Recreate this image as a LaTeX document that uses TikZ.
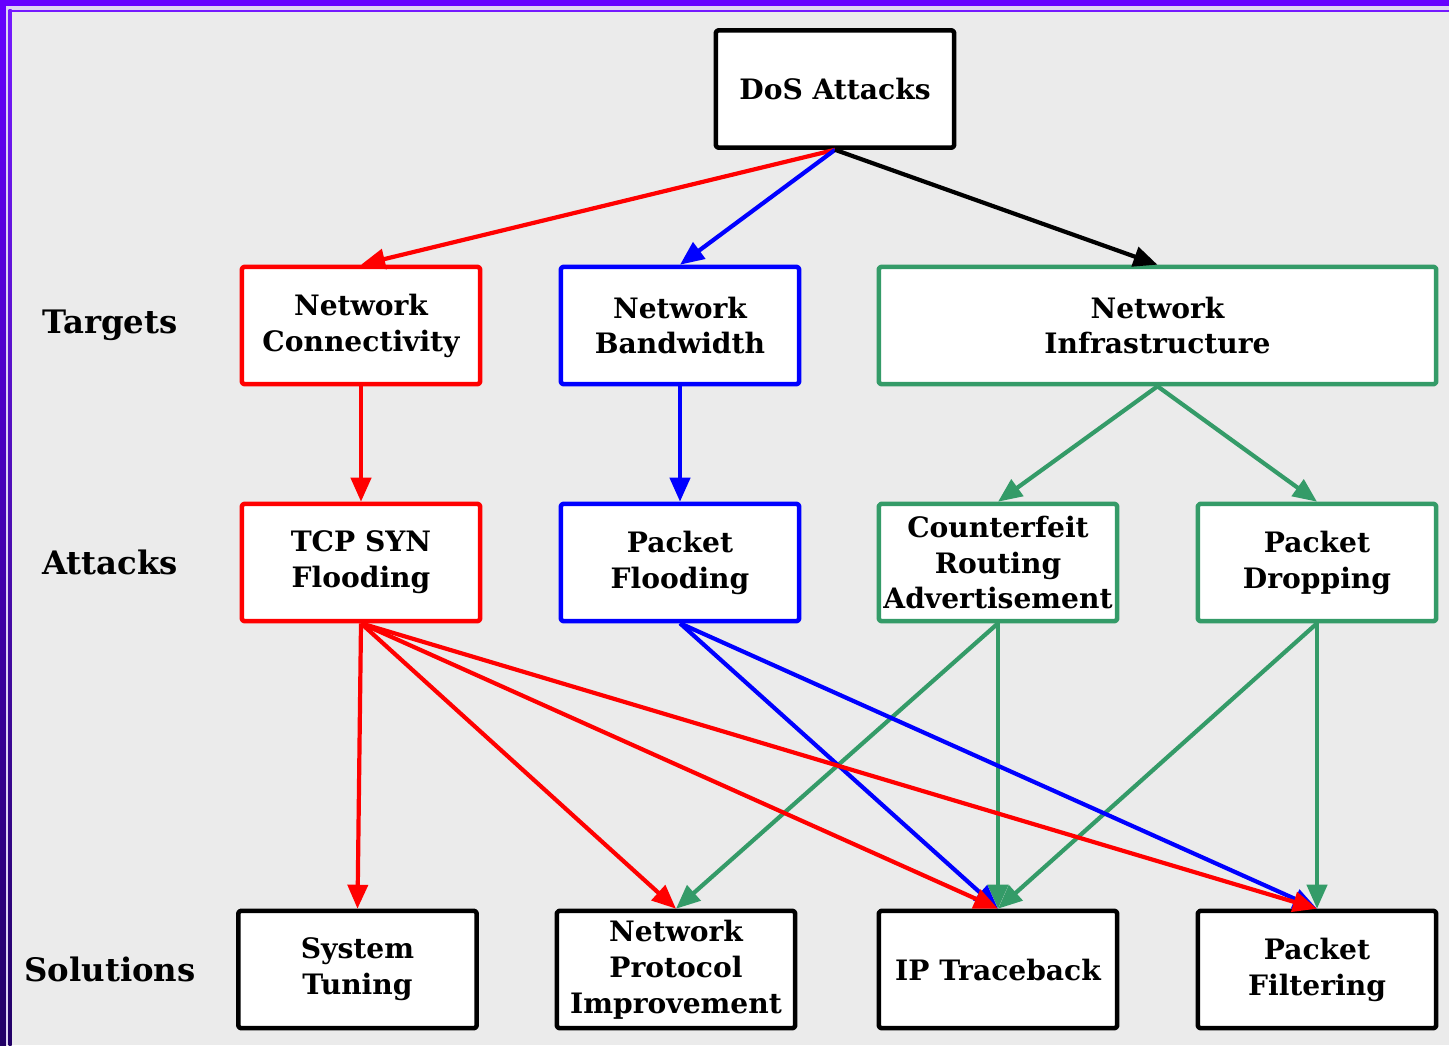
\documentclass[tikz,border=0pt]{standalone}
\usepackage{fontspec}
\setmainfont{DejaVu Serif}
\usetikzlibrary{arrows.meta}
\definecolor{bggray}{RGB}{235,235,235}
\definecolor{framepurple}{RGB}{102,0,255}
\definecolor{framedark}{RGB}{34,0,102}
\definecolor{framegap}{RGB}{222,212,242}
\definecolor{infragreen}{RGB}{52,155,104}

\begin{document}
\begin{tikzpicture}[x=0.01cm,y=-0.01cm,line join=round,
	box/.style={draw,fill=white,line width=0.045cm,rounded corners=0.5pt,align=center,inner sep=0pt,
		minimum width=2.38cm,minimum height=1.17cm,font=\fontsize{8}{10.2}\selectfont\bfseries},
	wide/.style={box,minimum width=5.57cm},
	rowlabel/.style={font=\fontsize{9.2}{11}\selectfont\bfseries},
	link/.style={line width=0.042cm,-{Triangle[length=0.24cm,width=0.2cm]}}]
	\useasboundingbox (0,0) rectangle (1449,1045);
	% background and frame
	\fill[bggray] (0,0) rectangle (1449,1045);
	\fill[framepurple] (0,0) rectangle (1449,6);
	\shade[top color=framepurple,bottom color=framedark] (0,0) rectangle (6,1045);
	\fill[framegap] (6,6) rectangle (1449,9.5);
	\fill[framegap] (6,6) rectangle (8.5,1045);
	\fill[framepurple!90!white] (8.5,9.5) rectangle (1449,12);
	\shade[top color=framepurple!90!white,bottom color=framedark] (8.5,9.5) rectangle (11.5,1045);
	% root
	\node[box] (dos) at (835,89) {DoS Attacks};
	% targets
	\node[rowlabel] (lbltargets) at (110,325) {Targets};
	\node[box,draw=red] (connect) at (361,325.5) {Network\\Connectivity};
	\node[box,draw=blue] (bandw) at (680,325.5) {Network\\Bandwidth};
	\node[wide,draw=infragreen] (infra) at (1157.5,325.5) {Network\\Infrastructure};
	% attacks
	\node[rowlabel] (lblattacks) at (110,562) {Attacks};
	\node[box,draw=red] (synflood) at (361,562.5) {TCP SYN\\Flooding};
	\node[box,draw=blue] (pktflood) at (680,562.5) {Packet\\Flooding};
	\node[box,draw=infragreen] (counterf) at (998,562.5) {Counterfeit\\Routing\\Advertisement};
	\node[box,draw=infragreen] (pktdrop) at (1317,562.5) {Packet\\Dropping};
	% solutions
	\node[rowlabel] (lblsolutions) at (110,969) {Solutions};
	\node[box] (tuning) at (357.5,969.5) {System\\Tuning};
	\node[box] (protocol) at (676,969.5) {Network\\Protocol\\Improvement};
	\node[box] (traceback) at (998,969.5) {IP Traceback};
	\node[box] (filtering) at (1317,969.5) {Packet\\Filtering};
	% links
	\draw[link,red] (dos.south) -- (connect.north);
	\draw[link,blue] (dos.south) -- (bandw.north);
	\draw[link,black] (dos.south) -- (infra.north);
	\draw[link,red] (connect.south) -- (synflood.north);
	\draw[link,blue] (bandw.south) -- (pktflood.north);
	\draw[link,infragreen] (infra.south) -- (counterf.north);
	\draw[link,infragreen] (infra.south) -- (pktdrop.north);
	\draw[link,infragreen] (counterf.south) -- (protocol.north);
	\draw[link,infragreen] (counterf.south) -- (traceback.north);
	\draw[link,infragreen] (pktdrop.south) -- (traceback.north);
	\draw[link,infragreen] (pktdrop.south) -- (filtering.north);
	\draw[link,blue] (pktflood.south) -- (traceback.north);
	\draw[link,blue] (pktflood.south) -- (filtering.north);
	\draw[link,red] (synflood.south) -- (tuning.north);
	\draw[link,red] (synflood.south) -- (protocol.north);
	\draw[link,red] (synflood.south) -- (traceback.north);
	\draw[link,red] (synflood.south) -- (filtering.north);
\end{tikzpicture}
\end{document}
